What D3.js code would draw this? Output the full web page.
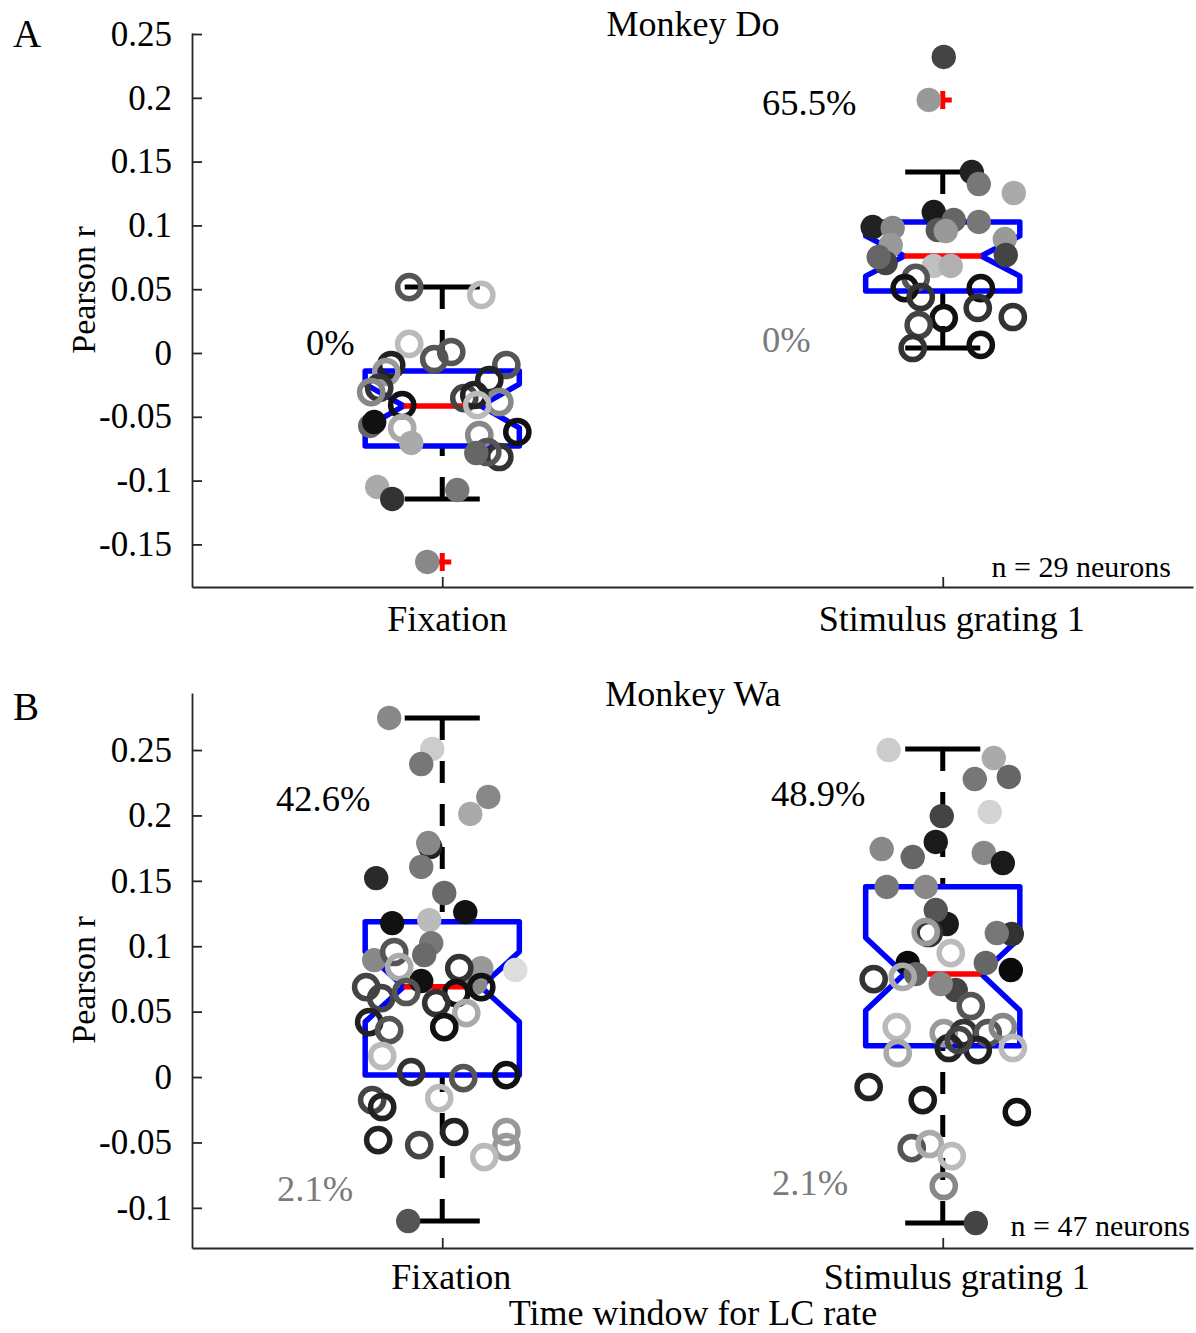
<!DOCTYPE html>
<html><head><meta charset="utf-8">
<script src="https://cdn.jsdelivr.net/npm/d3@7"></script>
<style>
body{margin:0;background:#fff}
svg{display:block}
text{font-family:"Liberation Serif","Times New Roman",Times,serif}
</style>
</head><body>
<svg id="chart" width="1196" height="1333"></svg>
<script>
// ---------------- DATA ----------------
const categories = ["Fixation", "Stimulus grating 1"];
const yTicksA = [-0.15, -0.1, -0.05, 0, 0.05, 0.1, 0.15, 0.2, 0.25];
const yTickLabelsA = ["-0.15", "-0.1", "-0.05", "0", "0.05", "0.1", "0.15", "0.2", "0.25"];
const yTicksB = [-0.1, -0.05, 0, 0.05, 0.1, 0.15, 0.2, 0.25];
const yTickLabelsB = ["-0.1", "-0.05", "0", "0.05", "0.1", "0.15", "0.2", "0.25"];

// Monkey Do, Fixation (29 neurons)
const doFixValues = [0.0517,0.0455,0.0071,-0.0047,0.0008,-0.0094,-0.0149,-0.0274,-0.0306,-0.0408,-0.0588,-0.0094,-0.0212,-0.0384,-0.0353,-0.0329,-0.0408,-0.0619,-0.0643,-0.0815,-0.0776,-0.0572,-0.0541,-0.0705,-0.0784,-0.105,-0.1144,-0.1074,-0.1638];
const doFixJitter = [-0.066,0.078,-0.066,-0.016,0.018,-0.102,-0.112,-0.126,-0.142,-0.080,-0.080,0.128,0.094,0.114,0.044,0.064,0.070,0.150,0.074,0.114,0.090,-0.144,-0.136,-0.062,0.068,-0.130,-0.100,0.030,-0.030];
const doFixFilled = [0,0,0,0,0,0,0,0,0,0,0,0,0,0,0,0,0,0,0,0,0,1,1,1,1,1,1,1,1];
const doFixShade = [85,187,187,85,85,34,153,51,136,17,170,85,34,136,68,34,187,17,136,51,85,102,17,170,102,170,51,119,136];

// Monkey Do, Stimulus grating 1
const doStimValues = [0.232,0.1983,0.1418,0.1324,0.1254,0.1105,0.1042,0.1027,0.0987,0.098,0.0964,0.0956,0.0893,0.0846,0.0705,0.0752,0.0768,0.0682,0.0682,0.0588,0.0509,0.0439,0.0509,0.0353,0.0274,0.0282,0.0219,0.0039,0.0063];
const doStimJitter = [0.002,-0.028,0.058,0.072,0.142,-0.018,0.022,0.072,-0.140,-0.100,-0.010,0.006,0.124,-0.104,-0.114,-0.128,0.126,-0.018,0.016,-0.054,-0.076,-0.044,0.076,0.070,0.002,0.140,-0.048,-0.060,0.076];
const doStimFilled = [1,1,1,1,1,1,1,1,1,1,1,1,1,1,1,1,1,1,1,0,0,0,0,0,0,0,0,0,0];
const doStimShade = [68,153,34,119,170,26,102,119,34,136,85,153,153,153,68,102,68,192,176,85,17,51,17,51,17,51,68,51,17];

// Monkey Wa, Fixation (47 neurons)
const waFixValues = [0.2745,0.2508,0.2393,0.2141,0.2011,0.1758,0.1789,0.1606,0.1521,0.1407,0.1261,0.1177,0.12,0.1024,0.0933,0.0894,0.0719,0.0833,0.0818,0.0734,-0.1101,0.0956,0.0841,0.0833,0.0688,0.0604,0.065,0.0642,0.0688,0.0566,0.0489,0.0382,0.042,0.0359,0.0161,0.0038,-0.0008,0.0015,-0.0161,-0.0176,-0.0229,-0.0482,-0.052,-0.042,-0.042,-0.0535,-0.0612];
const waFixJitter = [-0.106,-0.020,-0.042,0.092,0.056,-0.024,-0.028,-0.042,-0.132,0.004,0.046,-0.100,-0.026,-0.022,-0.036,-0.136,0.066,0.078,0.146,-0.042,-0.068,-0.096,-0.086,0.034,-0.152,-0.122,-0.072,0.028,0.078,-0.012,0.048,0.004,-0.146,-0.106,-0.120,-0.062,0.042,0.128,-0.006,-0.140,-0.120,-0.128,-0.046,0.024,0.128,0.128,0.084];
const waFixFilled = [1,1,1,1,1,1,1,1,1,1,1,1,1,1,1,1,1,1,1,1,1,0,0,0,0,0,0,0,0,0,0,0,0,0,0,0,0,0,0,0,0,0,0,0,0,0,0];
const waFixShade = [136,204,119,136,170,34,136,119,42,106,17,17,187,119,106,136,136,153,221,17,85,85,170,51,68,68,85,17,17,51,170,17,34,85,187,51,85,17,187,68,34,34,68,34,153,153,187];

// Monkey Wa, Stimulus grating 1
const waStimValues = [0.25,0.2439,0.2278,0.2294,0.2026,0.1995,0.1797,0.1743,0.1682,0.1713,0.1636,0.1453,0.1453,0.117,0.1277,0.1093,0.1101,0.0872,0.0872,0.0818,0.0787,0.0665,0.0711,-0.1116,0.1101,0.1109,0.0948,0.0749,0.0765,0.0543,0.0382,0.0336,0.0336,0.0336,0.0382,0.0222,0.0222,0.0206,0.0183,-0.0076,-0.0176,-0.0268,-0.0543,-0.0512,-0.0604,-0.0833,0.0283];
const waStimJitter = [-0.108,0.102,0.064,0.132,0.094,-0.002,-0.014,-0.122,-0.060,0.082,0.120,-0.112,-0.034,0.008,-0.014,0.138,0.108,-0.070,0.086,0.136,-0.054,0.026,-0.004,0.066,-0.028,-0.034,0.016,-0.138,-0.080,0.056,-0.092,0.002,0.042,0.090,0.120,0.140,0.012,0.070,-0.090,-0.148,-0.040,0.148,-0.062,-0.026,0.018,0.002,0.032];
const waStimFilled = [1,1,1,1,1,1,1,1,1,1,1,1,1,1,1,1,1,1,1,1,1,1,1,1,0,0,0,0,0,0,0,0,0,0,0,0,0,0,0,0,0,0,0,0,0,0,0];
const waStimShade = [204,170,119,102,212,68,26,136,102,136,26,119,136,26,85,51,119,10,102,10,102,68,136,68,51,153,187,51,170,85,187,153,51,85,136,187,34,34,170,34,26,17,85,170,187,136,68];

// Box-plot statistics: [q1, median, q3, lower whisker, upper whisker]
const doFixBox = [-0.0729, -0.0415, -0.0141, -0.1144, 0.0517];
const doStimBox = [0.0486, 0.076, 0.1027, 0.0039, 0.1418];
const waFixBox = [0.0015, 0.069, 0.1187, -0.1101, 0.2745];
const waStimBox = [0.0239, 0.0787, 0.1455, -0.1116, 0.2508];
const doFixOutliers = [-0.1638];
const doStimOutliers = [0.1983, 0.232];
const waFixOutliers = [];
const waStimOutliers = [];

// percentage annotations
const doPctPos = ["0%", "65.5%"];
const doPctNeg = ["", "0%"];
const waPctPos = ["42.6%", "48.9%"];
const waPctNeg = ["2.1%", "2.1%"];

// ---------------- LAYOUT ----------------
const svg = d3.select("#chart");
const AXIS_COLOR = "#262626";
const X0 = 192, X1 = 1193;
const BOX_HALF = 0.154;   // box half width in x units
const CAP_HALF = 0.075;

const panels = [
  {
    letter: "A", letterY: 47, title: "Monkey Do", titleY: 36,
    yTop: 33, yBottom: 587, domain: [-0.1834, 0.2508],
    ticks: yTicksA, tickLabels: yTickLabelsA, ylabelY: 290,
    groups: [
      {v: doFixValues, j: doFixJitter, f: doFixFilled, s: doFixShade, box: doFixBox, out: doFixOutliers},
      {v: doStimValues, j: doStimJitter, f: doStimFilled, s: doStimShade, box: doStimBox, out: doStimOutliers}
    ],
    catLabelDx: [5, 9], catLabelY: 631,
    pct: [
      {t: doPctPos[0], x: 306, y: 355, c: "#000"},
      {t: doPctPos[1], x: 762, y: 115, c: "#000"},
      {t: doPctNeg[1], x: 762, y: 352, c: "#7a7a7a"}
    ],
    nText: "n = 29 neurons", nX: 1171, nY: 577
  },
  {
    letter: "B", letterY: 720, title: "Monkey Wa", titleY: 706,
    yTop: 693, yBottom: 1248, domain: [-0.1307, 0.2936],
    ticks: yTicksB, tickLabels: yTickLabelsB, ylabelY: 980,
    groups: [
      {v: waFixValues, j: waFixJitter, f: waFixFilled, s: waFixShade, box: waFixBox, out: waFixOutliers},
      {v: waStimValues, j: waStimJitter, f: waStimFilled, s: waStimShade, box: waStimBox, out: waStimOutliers}
    ],
    catLabelDx: [9, 14], catLabelY: 1289,
    pct: [
      {t: waPctPos[0], x: 276, y: 811, c: "#000"},
      {t: waPctNeg[0], x: 277, y: 1201, c: "#7a7a7a"},
      {t: waPctPos[1], x: 771, y: 806, c: "#000"},
      {t: waPctNeg[1], x: 772, y: 1195, c: "#7a7a7a"}
    ],
    nText: "n = 47 neurons", nX: 1190, nY: 1236
  }
];

const x = d3.scaleLinear().domain([0.5, 2.5]).range([X0, X1]);
const shade = g => d3.rgb(g, g, g).formatHex();

panels.forEach(p => {
  const y = d3.scaleLinear().domain(p.domain).range([p.yBottom, p.yTop]);
  const g = svg.append("g");

  // y axis
  const yAxis = d3.axisLeft(y).tickValues(p.ticks)
    .tickFormat((d, i) => p.tickLabels[i])
    .tickSizeInner(-10).tickSizeOuter(0).tickPadding(20);
  const ya = g.append("g").attr("transform", `translate(${X0},0)`).call(yAxis);
  ya.select(".domain").attr("stroke", AXIS_COLOR).attr("stroke-width", 1.8);
  ya.selectAll(".tick line").attr("stroke", AXIS_COLOR).attr("stroke-width", 1.8);
  ya.selectAll(".tick text").attr("font-size", 35).attr("fill", "#000")
    .attr("font-family", '"Liberation Serif","Times New Roman",serif');

  // x axis
  const xAxis = d3.axisBottom(x).tickValues([1, 2]).tickFormat("")
    .tickSizeInner(-10).tickSizeOuter(0);
  const xa = g.append("g").attr("transform", `translate(0,${p.yBottom})`).call(xAxis);
  xa.select(".domain").attr("stroke", AXIS_COLOR).attr("stroke-width", 1.8);
  xa.selectAll(".tick line").attr("stroke", AXIS_COLOR).attr("stroke-width", 1.8);

  // category labels
  categories.forEach((c, i) => {
    g.append("text").attr("x", x(i + 1) + p.catLabelDx[i]).attr("y", p.catLabelY)
      .attr("text-anchor", "middle").attr("font-size", 36).attr("fill", "#000").text(c);
  });

  // y label
  g.append("text").attr("transform", `translate(95,${p.ylabelY}) rotate(-90)`)
    .attr("text-anchor", "middle").attr("font-size", 34).attr("fill", "#000").text("Pearson r");

  // title & letter
  g.append("text").attr("x", 693).attr("y", p.titleY).attr("text-anchor", "middle")
    .attr("font-size", 36).attr("fill", "#000").text(p.title);
  g.append("text").attr("x", 13).attr("y", p.letterY)
    .attr("font-size", 39).attr("fill", "#000").text(p.letter);

  // boxplots
  p.groups.forEach((gr, i) => {
    const cx = i + 1;
    const [q1, med, q3, lo, hi] = gr.box;
    const n = gr.v.length;
    const notch = 1.57 * (q3 - q1) / Math.sqrt(n);
    const nHi = med + notch, nLo = med - notch;
    const pts = [
      [cx - BOX_HALF, q3], [cx + BOX_HALF, q3], [cx + BOX_HALF, nHi], [cx + BOX_HALF / 2, med],
      [cx + BOX_HALF, nLo], [cx + BOX_HALF, q1], [cx - BOX_HALF, q1], [cx - BOX_HALF, nLo],
      [cx - BOX_HALF / 2, med], [cx - BOX_HALF, nHi]
    ];
    const line = d3.line().x(d => x(d[0])).y(d => y(d[1]));
    // whiskers (dashed)
    [[hi, q3], [lo, q1]].forEach(([a, b]) => {
      g.append("line").attr("x1", x(cx)).attr("x2", x(cx)).attr("y1", y(a)).attr("y2", y(b))
        .attr("stroke", "#000").attr("stroke-width", 5).attr("stroke-dasharray", "22 21");
      g.append("line").attr("x1", x(cx - CAP_HALF)).attr("x2", x(cx + CAP_HALF))
        .attr("y1", y(a)).attr("y2", y(a)).attr("stroke", "#000").attr("stroke-width", 5);
    });
    g.append("path").attr("d", line(pts) + "Z").attr("fill", "none")
      .attr("stroke", "#0000ff").attr("stroke-width", 5.5).attr("stroke-linejoin", "round");
    g.append("line").attr("x1", x(cx - BOX_HALF / 2)).attr("x2", x(cx + BOX_HALF / 2))
      .attr("y1", y(med)).attr("y2", y(med)).attr("stroke", "#ff0000").attr("stroke-width", 5.5);
    // outliers
    gr.out.forEach(o => {
      const ox = x(cx), oy = y(o);
      g.append("path").attr("d", `M${ox - 9},${oy}H${ox + 9}M${ox},${oy - 9}V${oy + 9}`)
        .attr("stroke", "#ff0000").attr("stroke-width", 5).attr("fill", "none");
    });
  });

  // points
  p.groups.forEach((gr, i) => {
    const cx = i + 1;
    gr.v.forEach((v, k) => {
      const px = x(cx + gr.j[k]), py = y(v);
      const col = shade(gr.s[k]);
      if (gr.f[k]) {
        g.append("circle").attr("cx", px).attr("cy", py).attr("r", 12.2).attr("fill", col);
      } else {
        g.append("circle").attr("cx", px).attr("cy", py).attr("r", 11.6)
          .attr("fill", "none").attr("stroke", col).attr("stroke-width", 5.5);
      }
    });
  });

  // percentages
  p.pct.forEach(a => {
    if (!a.t) return;
    g.append("text").attr("x", a.x).attr("y", a.y).attr("font-size", 36.5).attr("fill", a.c).text(a.t);
  });
  // n label
  g.append("text").attr("x", p.nX).attr("y", p.nY).attr("text-anchor", "end")
    .attr("font-size", 30).attr("fill", "#000").text(p.nText);
});

// x axis label
svg.append("text").attr("x", 693).attr("y", 1325).attr("text-anchor", "middle")
  .attr("font-size", 36).attr("fill", "#000").text("Time window for LC rate");
</script>
</body></html>
